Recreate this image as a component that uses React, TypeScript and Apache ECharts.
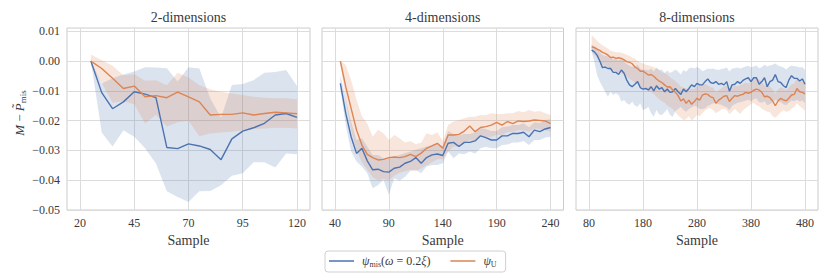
import React, { useEffect, useRef } from "react";
import * as echarts from "echarts";

// ---------- data ----------
const p1X = [25, 30, 35, 40, 45, 50, 55, 60, 65, 70, 75, 80, 85, 90, 95, 100, 105, 110, 115, 120];
const p1Blue = [0, -0.0106, -0.016, -0.0137, -0.0103, -0.0111, -0.0123, -0.029, -0.0294, -0.0278, -0.0285, -0.0297, -0.0331, -0.0261, -0.0235, -0.0224, -0.0209, -0.0181, -0.0176, -0.0189];
const p1BlueHi = [0, -0.0075, -0.0058, -0.0045, -0.0035, -0.0021, -0.0022, -0.0024, -0.0069, -0.0021, -0.0025, -0.0125, -0.019, -0.008, -0.0077, -0.0064, -0.0039, -0.0037, -0.003, -0.0084];
const p1BlueLo = [0, -0.024, -0.0287, -0.0232, -0.0254, -0.0293, -0.0344, -0.0437, -0.0456, -0.0473, -0.0437, -0.0436, -0.0417, -0.0385, -0.0377, -0.034, -0.034, -0.0357, -0.031, -0.0313];
const p1Orange = [0, -0.0025, -0.0058, -0.0092, -0.0084, -0.012, -0.0116, -0.0123, -0.0104, -0.012, -0.0137, -0.0181, -0.0179, -0.0179, -0.0174, -0.0181, -0.0176, -0.0172, -0.0174, -0.0177];
const p1OrangeHi = [0.0022, 0.0003, -0.0016, -0.0048, -0.0044, -0.0066, -0.0064, -0.0081, -0.0039, -0.0055, -0.0081, -0.0095, -0.0103, -0.0109, -0.0114, -0.012, -0.0123, -0.0125, -0.0125, -0.0128];
const p1OrangeLo = [-0.0015, -0.0073, -0.014, -0.0135, -0.0145, -0.021, -0.018, -0.022, -0.0205, -0.02, -0.0252, -0.0243, -0.024, -0.0237, -0.0232, -0.0228, -0.0226, -0.0224, -0.0224, -0.0226];

const p2X = [45, 50, 55, 60, 65, 70, 75, 80, 85, 90, 95, 100, 105, 110, 115, 120, 125, 130, 135, 140, 145, 150, 155, 160, 165, 170, 175, 180, 185, 190, 195, 200, 205, 210, 215, 220, 225, 230, 235, 240];
const p2Blue = [-0.0075, -0.0175, -0.0254, -0.031, -0.0293, -0.0335, -0.0365, -0.0363, -0.0371, -0.0373, -0.036, -0.0356, -0.0343, -0.0337, -0.0324, -0.0343, -0.0324, -0.0315, -0.0312, -0.0317, -0.0276, -0.0273, -0.0287, -0.0273, -0.0273, -0.0268, -0.0251, -0.0257, -0.0265, -0.0265, -0.0251, -0.0251, -0.0243, -0.0243, -0.0239, -0.0254, -0.0232, -0.0237, -0.0228, -0.0223];
const p2BlueHi = [-0.0047, -0.0125, -0.0203, -0.0265, -0.0259, -0.0287, -0.0315, -0.0315, -0.0326, -0.0326, -0.032, -0.0315, -0.0309, -0.0304, -0.0298, -0.0293, -0.0287, -0.0282, -0.0276, -0.0285, -0.0235, -0.0245, -0.025, -0.0245, -0.0245, -0.024, -0.0225, -0.0228, -0.0235, -0.0235, -0.0222, -0.022, -0.0215, -0.0215, -0.021, -0.0222, -0.0205, -0.0208, -0.0198, -0.0195];
const p2BlueLo = [-0.0092, -0.0215, -0.0304, -0.0337, -0.0354, -0.0377, -0.0427, -0.0416, -0.0399, -0.0449, -0.0393, -0.0402, -0.0388, -0.0369, -0.0365, -0.0377, -0.0354, -0.0349, -0.0349, -0.0343, -0.0304, -0.0326, -0.031, -0.0313, -0.0304, -0.031, -0.0293, -0.0288, -0.0293, -0.0293, -0.0282, -0.028, -0.0273, -0.0273, -0.0268, -0.0282, -0.0265, -0.0265, -0.0257, -0.0254];
const p2Orange = [0, -0.0086, -0.0159, -0.0231, -0.0282, -0.0313, -0.0324, -0.0332, -0.033, -0.0324, -0.0322, -0.0324, -0.0321, -0.0313, -0.0321, -0.0309, -0.0293, -0.0285, -0.0276, -0.0293, -0.0248, -0.0248, -0.0246, -0.0235, -0.0218, -0.0237, -0.0223, -0.022, -0.0215, -0.0206, -0.0215, -0.0203, -0.021, -0.0201, -0.0203, -0.0201, -0.0198, -0.0199, -0.0201, -0.021];
const p2OrangeHi = [0, -0.0013, -0.0064, -0.013, -0.0185, -0.021, -0.0254, -0.0231, -0.0242, -0.0265, -0.0248, -0.0259, -0.0273, -0.0268, -0.0279, -0.0273, -0.0242, -0.0248, -0.0239, -0.0268, -0.0215, -0.0203, -0.0198, -0.0192, -0.0187, -0.0187, -0.0181, -0.0182, -0.0175, -0.0178, -0.0178, -0.0175, -0.0175, -0.0168, -0.0172, -0.0164, -0.017, -0.0168, -0.0175, -0.0181];
const p2OrangeLo = [-0.001, -0.013, -0.023, -0.03, -0.034, -0.0365, -0.039, -0.04, -0.0395, -0.04, -0.0385, -0.0375, -0.037, -0.0365, -0.037, -0.036, -0.035, -0.034, -0.033, -0.033, -0.0304, -0.0287, -0.0287, -0.0276, -0.0265, -0.027, -0.0254, -0.0254, -0.0254, -0.0248, -0.0248, -0.0239, -0.0237, -0.0232, -0.0232, -0.0237, -0.0226, -0.0228, -0.0232, -0.0237];

const p3X = [85, 90, 95, 100, 105, 110, 115, 120, 125, 130, 135, 140, 145, 150, 155, 160, 165, 170, 175, 180, 185, 190, 195, 200, 205, 210, 215, 220, 225, 230, 235, 240, 245, 250, 255, 260, 265, 270, 275, 280, 285, 290, 295, 300, 305, 310, 315, 320, 325, 330, 335, 340, 345, 350, 355, 360, 365, 370, 375, 380, 385, 390, 395, 400, 405, 410, 415, 420, 425, 430, 435, 440, 445, 450, 455, 460, 465, 470, 475, 480];
const p3Blue = [0.0037, 0.0031, 0.002, 0.0, -0.0022, -0.002, -0.0025, -0.0025, -0.0038, -0.0038, -0.0045, -0.003, -0.0041, -0.0064, -0.008, -0.0086, -0.0078, -0.0069, -0.0089, -0.0094, -0.0092, -0.0097, -0.0086, -0.01, -0.0083, -0.0094, -0.0089, -0.0103, -0.0094, -0.0105, -0.0103, -0.0092, -0.0103, -0.0112, -0.0094, -0.0103, -0.0092, -0.008, -0.0086, -0.0075, -0.008,
  -0.008, -0.0069, -0.006, -0.0072, -0.0075, -0.0069, -0.0078, -0.0075, -0.008, -0.0069, -0.0101, -0.008, -0.0078, -0.0069, -0.0075, -0.0065, -0.006, -0.0056, -0.0069, -0.0056, -0.0056, -0.0078, -0.0069, -0.0056, -0.0086, -0.0069, -0.0064, -0.0045, -0.0069, -0.0072, -0.0083, -0.0089, -0.0064, -0.0049, -0.0058, -0.0058, -0.0067, -0.006, -0.0078];
const p3BlueHi = [0.0055, 0.005, 0.0045, 0.003, 0.002, 0.0018, 0.0015, 0.0012, 0.0005, 0.0008, 0.0002, 0.001, 0.0, -0.001, -0.0015, -0.002, -0.0018, -0.0012, -0.0025, -0.003, -0.0028, -0.0032, -0.0025, -0.0035, -0.0022, -0.003, -0.0028, -0.004, -0.0032, -0.004, -0.0035, -0.0028, -0.0035, -0.0045, -0.003, -0.0036, -0.0025, -0.0022, -0.0025, -0.002, -0.0025,
  -0.0034, -0.003, -0.0025, -0.0027, -0.0025, -0.0028, -0.003, -0.0027, -0.0025, -0.0022, -0.0035, -0.0025, -0.0024, -0.0022, -0.0025, -0.0022, -0.0018, -0.0016, -0.0022, -0.0018, -0.0015, -0.0024, -0.002, -0.0012, -0.0018, -0.0015, -0.0012, -0.0008, -0.0015, -0.0018, -0.0022, -0.0028, -0.002, -0.0015, -0.0017, -0.0018, -0.0022, -0.002, -0.003];
const p3BlueLo = [0.0031, -0.0002, -0.0047, -0.0069, -0.0086, -0.0103, -0.012, -0.0103, -0.0114, -0.0108, -0.0114, -0.0136, -0.0131, -0.0142, -0.0147, -0.0136, -0.015, -0.0153, -0.0142, -0.0164, -0.0161, -0.0153, -0.0175, -0.0187, -0.0164, -0.0179, -0.0181, -0.0172, -0.0161, -0.0181, -0.0187, -0.0168, -0.0161, -0.0153, -0.0164, -0.017, -0.0161, -0.0156, -0.015, -0.0153, -0.0161,
  -0.0161, -0.0158, -0.015, -0.0147, -0.0142, -0.014, -0.0145, -0.0147, -0.0152, -0.0155, -0.0165, -0.015, -0.0145, -0.014, -0.0138, -0.0136, -0.0132, -0.013, -0.0135, -0.0128, -0.0125, -0.0138, -0.014, -0.0135, -0.0148, -0.0145, -0.0138, -0.013, -0.0135, -0.0138, -0.0145, -0.0148, -0.014, -0.0132, -0.0135, -0.013, -0.0136, -0.0132, -0.0142];
const p3Orange = [0.0048, 0.0045, 0.004, 0.0036, 0.0029, 0.0026, 0.002, 0.0012, 0.0013, 0.0009, 0.0011, 0.0009, 0.0004, -0.0002, -0.0004, -0.0009, -0.002, -0.0025, -0.0034, -0.0034, -0.004, -0.0047, -0.0045, -0.0051, -0.006, -0.0067, -0.0072, -0.008, -0.0087, -0.0086, -0.0097, -0.0105, -0.0116, -0.0134, -0.0127, -0.0142, -0.0131, -0.0145, -0.0136, -0.0125, -0.0131,
  -0.0114, -0.011, -0.0112, -0.012, -0.0123, -0.0142, -0.0131, -0.0125, -0.0118, -0.0116, -0.0136, -0.0125, -0.0116, -0.0118, -0.0114, -0.0112, -0.0105, -0.0108, -0.0105, -0.0098, -0.0094, -0.0097, -0.0105, -0.012, -0.0118, -0.0123, -0.0134, -0.015, -0.0134, -0.0125, -0.013, -0.0134, -0.0125, -0.0114, -0.0112, -0.0092, -0.0103, -0.0105, -0.011];
const p3OrangeHi = [0.0087, 0.0078, 0.0068, 0.006, 0.0052, 0.0048, 0.0042, 0.0035, 0.0032, 0.003, 0.003, 0.0028, 0.0025, 0.002, 0.0018, 0.0012, 0.0008, 0.0, -0.0005, -0.0008, -0.0012, -0.0014, -0.0017, -0.002, -0.0025, -0.003, -0.0038, -0.004, -0.0045, -0.0055, -0.006, -0.0068, -0.0075, -0.0085, -0.009, -0.0092, -0.0095, -0.0092, -0.0095, -0.0085, -0.008,
  -0.008, -0.0078, -0.0082, -0.0088, -0.009, -0.0105, -0.0098, -0.0092, -0.0085, -0.0082, -0.0098, -0.009, -0.0082, -0.0085, -0.008, -0.0078, -0.0072, -0.0075, -0.007, -0.0062, -0.0058, -0.0062, -0.007, -0.0082, -0.008, -0.0085, -0.0095, -0.011, -0.0095, -0.0088, -0.0092, -0.0098, -0.0088, -0.0078, -0.0075, -0.0058, -0.0068, -0.007, -0.0072];
const p3OrangeLo = [0.0035, 0.002, 0.0012, 0.0, -0.0012, -0.0015, -0.002, -0.0028, -0.003, -0.0035, -0.0038, -0.004, -0.0045, -0.0052, -0.006, -0.0065, -0.0072, -0.0078, -0.0085, -0.009, -0.0095, -0.0102, -0.0105, -0.011, -0.012, -0.0128, -0.0135, -0.014, -0.0148, -0.0155, -0.016, -0.0172, -0.0182, -0.019, -0.0198, -0.0195, -0.0185, -0.02, -0.0192, -0.018, -0.0185,
  -0.0175, -0.0165, -0.016, -0.0158, -0.0165, -0.0175, -0.017, -0.0162, -0.016, -0.0165, -0.0178, -0.017, -0.016, -0.017, -0.0178, -0.0165, -0.0158, -0.0152, -0.0145, -0.014, -0.0148, -0.0152, -0.016, -0.0165, -0.017, -0.0172, -0.0185, -0.019, -0.0182, -0.0172, -0.0165, -0.017, -0.0168, -0.016, -0.0155, -0.0142, -0.0152, -0.0158, -0.0168];

const panelTitles = ["2-dimensions", "4-dimensions", "8-dimensions"];
const xTicks1 = [20, 45, 70, 95, 120];
const xTicks2 = [40, 90, 140, 190, 240];
const xTicks3 = [80, 180, 280, 380, 480];
const yTicks = [-0.05, -0.04, -0.03, -0.02, -0.01, 0.0, 0.01];

// ---------- style ----------
const FONT = "Liberation Serif";
const TXT = "#3a3a3a";
const BLUE = "#4c72b0";
const ORANGE = "#dd8452";
const BLUE_FILL = "rgba(76,114,176,0.2)";
const ORANGE_FILL = "rgba(221,132,82,0.2)";

const GRIDS = [
  { left: 67, width: 243 },
  { left: 322, width: 241.5 },
  { left: 576, width: 242 },
];
const X_EXT = [
  [14, 126],
  [28, 252],
  [56, 504],
];

function fmtY(v: number) {
  const r = Math.round(v * 100);
  if (Math.abs(v * 100 - r) > 1e-6) return "";
  if (r === 0) return "0.00";
  return (r < 0 ? "\u2212" : "") + Math.abs(v).toFixed(2);
}

function band(xs: number[], lo: number[], hi: number[], fill: string, g: number) {
  return {
    type: "custom",
    xAxisIndex: g,
    yAxisIndex: g,
    silent: true,
    z: 1,
    data: xs.map((x, i) => [x, lo[i], hi[i]]),
    encode: { x: 0, y: [1, 2] },
    renderItem: (params: any, api: any) => {
      if (params.dataIndex !== 0) return null;
      const pts: number[][] = [];
      for (let i = 0; i < xs.length; i++) pts.push(api.coord([xs[i], hi[i]]));
      for (let i = xs.length - 1; i >= 0; i--) pts.push(api.coord([xs[i], lo[i]]));
      return { type: "polygon", shape: { points: pts }, style: { fill, stroke: "none" } };
    },
  };
}

function line(name: string, xs: number[], ys: number[], color: string, g: number) {
  return {
    type: "line",
    name,
    xAxisIndex: g,
    yAxisIndex: g,
    data: xs.map((x, i) => [x, ys[i]]),
    symbol: "none",
    showSymbol: false,
    silent: true,
    z: 3,
    lineStyle: { color, width: 1.4 },
    itemStyle: { color },
  };
}

export default function App() {
  const ref = useRef<HTMLDivElement>(null);
  useEffect(() => {
    document.body.style.margin = "0";
    if (!ref.current) return;
    const chart = echarts.init(ref.current, null, { renderer: "svg" });
    const xTicks = [xTicks1, xTicks2, xTicks3];
    const txt = (size: number, extra: any = {}) => ({
      fontFamily: FONT,
      fontSize: size,
      color: TXT,
      ...extra,
    });
    const option: any = {
      animation: false,
      backgroundColor: "#ffffff",
      textStyle: { fontFamily: FONT, color: TXT },
      grid: GRIDS.map((g) => ({
        left: g.left,
        width: g.width,
        top: 28,
        height: 182,
        show: true,
        borderColor: "#cccccc",
        borderWidth: 1,
        backgroundColor: "#ffffff",
      })),
      xAxis: GRIDS.map((_, i) => ({
        gridIndex: i,
        type: "value",
        min: X_EXT[i][0],
        max: X_EXT[i][1],
        name: "Sample",
        nameLocation: "middle",
        nameGap: 21,
        nameTextStyle: txt(14),
        axisLine: { show: false },
        axisTick: { show: false, customValues: xTicks[i] },
        axisLabel: { customValues: xTicks[i], margin: 7, ...txt(12) },
        splitLine: { show: true, lineStyle: { color: "#dcdcdc", width: 1 } },
      })),
      yAxis: GRIDS.map((_, i) => ({
        gridIndex: i,
        type: "value",
        min: -0.05,
        max: 0.0111,
        name: i === 0 ? "{i|M} \u2212 {i|P\u0303}{s|mis}" : "",
        nameLocation: "middle",
        nameRotate: 90,
        nameGap: 40,
        nameTextStyle: txt(13, {
          padding: [0, 0, 0, 12],
          rich: {
            i: txt(13, { fontStyle: "italic", lineHeight: 16 }),
            s: txt(9, { verticalAlign: "bottom", lineHeight: 10 }),
          },
        }),
        axisLine: { show: false },
        axisTick: { show: false, customValues: yTicks },
        axisLabel: {
          show: i === 0,
          customValues: yTicks,
          formatter: fmtY,
          margin: 7,
          ...txt(12),
        },
        splitLine: { show: true, lineStyle: { color: "#dcdcdc", width: 1 } },
      })),
      legend: {
        data: [
          { name: "mis", icon: "rect" },
          { name: "U", icon: "rect" },
        ],
        left: 325,
        top: 251,
        orient: "horizontal",
        padding: [4, 9, 4, 4],
        itemWidth: 25,
        itemHeight: 1.5,
        itemGap: 20,
        borderColor: "#d0d0d0",
        borderWidth: 1,
        borderRadius: 3,
        backgroundColor: "#ffffff",
        selectedMode: false,
        formatter: (name: string) =>
          name === "mis" ? " {a|\u03c8}{s|mis}{b|(}{a|\u03c9}{b| = 0.2}{a|\u03be}{b|)}" : " {a|\u03c8}{s|U}",
        textStyle: txt(12, {
          rich: {
            a: txt(12, { fontStyle: "italic", lineHeight: 14 }),
            b: txt(12, { lineHeight: 14 }),
            s: txt(8, { verticalAlign: "bottom", lineHeight: 8 }),
          },
        }),
      },
      graphic: GRIDS.map((g, i) => ({
        type: "text",
        x: g.left + g.width / 2,
        y: 17.5,
        silent: true,
        style: {
          text: panelTitles[i],
          fontFamily: FONT,
          fontSize: 14,
          fill: TXT,
          align: "center",
          verticalAlign: "middle",
        },
      })),
      series: [
        band(p1X, p1BlueLo, p1BlueHi, BLUE_FILL, 0),
        band(p1X, p1OrangeLo, p1OrangeHi, ORANGE_FILL, 0),
        line("mis", p1X, p1Blue, BLUE, 0),
        line("U", p1X, p1Orange, ORANGE, 0),
        band(p2X, p2BlueLo, p2BlueHi, BLUE_FILL, 1),
        band(p2X, p2OrangeLo, p2OrangeHi, ORANGE_FILL, 1),
        line("mis", p2X, p2Blue, BLUE, 1),
        line("U", p2X, p2Orange, ORANGE, 1),
        band(p3X, p3BlueLo, p3BlueHi, BLUE_FILL, 2),
        band(p3X, p3OrangeLo, p3OrangeHi, ORANGE_FILL, 2),
        line("mis", p3X, p3Blue, BLUE, 2),
        line("U", p3X, p3Orange, ORANGE, 2),
      ],
    };
    chart.setOption(option);
    return () => chart.dispose();
  }, []);
  return <div ref={ref} style={{ width: 830, height: 277 }} />;
}
